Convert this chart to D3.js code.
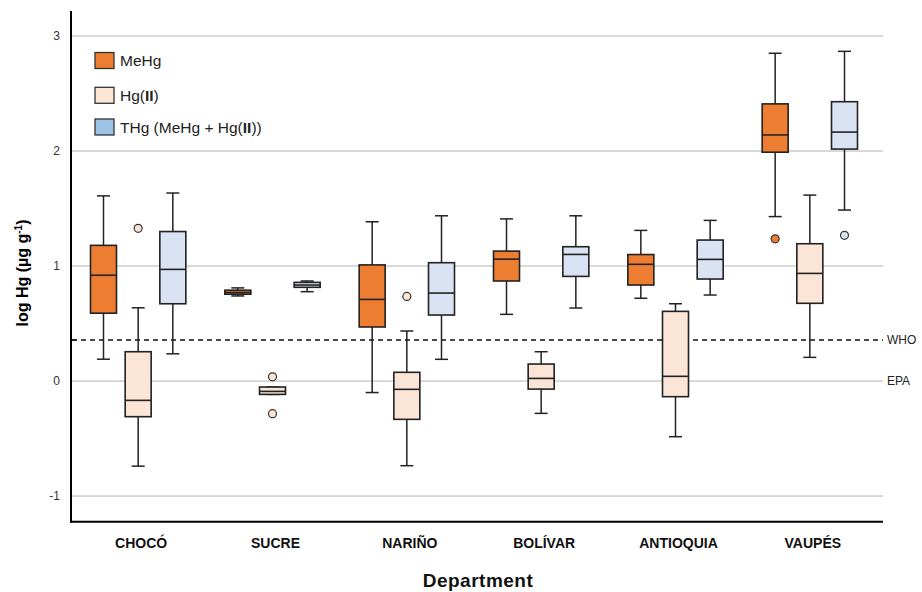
<!DOCTYPE html>
<html>
<head>
<meta charset="utf-8">
<script src="https://cdn.jsdelivr.net/npm/d3@7"></script>
<style>
  body { margin: 0; background: #fff; }
  svg { font-family: Arial, "Liberation Sans", sans-serif; }
</style>
</head>
<body>
<script>
// departments and series
const departments = ["CHOCÓ", "SUCRE", "NARIÑO", "BOLÍVAR", "ANTIOQUIA", "VAUPÉS"];
const seriesNames = ["MeHg", "Hg(II)", "THg"];

// box stats (log Hg), one value per department
const meHgMin = [0.19, 0.74, -0.10, 0.58, 0.72, 1.43];
const meHgQ1  = [0.59, 0.755, 0.47, 0.87, 0.835, 1.99];
const meHgMed = [0.92, 0.77, 0.71, 1.06, 1.015, 2.14];
const meHgQ3  = [1.18, 0.79, 1.01, 1.13, 1.10, 2.41];
const meHgMax = [1.61, 0.81, 1.385, 1.41, 1.31, 2.85];

const hgIIMin = [-0.74, -0.116, -0.736, -0.281, -0.484, 0.206];
const hgIIQ1  = [-0.31, -0.116, -0.333, -0.07, -0.136, 0.676];
const hgIIMed = [-0.168, -0.09, -0.072, 0.023, 0.041, 0.936];
const hgIIQ3  = [0.255, -0.052, 0.076, 0.148, 0.606, 1.194];
const hgIIMax = [0.637, -0.052, 0.435, 0.255, 0.672, 1.617];

const tHgMin = [0.237, 0.777, 0.189, 0.635, 0.748, 1.487];
const tHgQ1  = [0.672, 0.815, 0.574, 0.910, 0.887, 2.017];
const tHgMed = [0.971, 0.835, 0.765, 1.101, 1.058, 2.165];
const tHgQ3  = [1.30, 0.858, 1.029, 1.168, 1.226, 2.429];
const tHgMax = [1.635, 0.87, 1.437, 1.437, 1.397, 2.867];

// outliers: [department, value]
const meHgOutliers = [["VAUPÉS", 1.237]];
const hgIIOutliers = [["CHOCÓ", 1.328], ["SUCRE", 0.037], ["SUCRE", -0.284], ["NARIÑO", 0.736]];
const tHgOutliers  = [["VAUPÉS", 1.267]];

const yTicks = [-1, 0, 1, 2, 3];
const whoLevel = 0.357;
const epaLevel = 0;

const width = 922, height = 592;

const svg = d3.select("body").append("svg")
  .attr("width", width)
  .attr("height", height);

const y = d3.scaleLinear().domain([-1.223, 3.209]).range([521.7, 12]);
const x = d3.scaleBand().domain(departments).range([71, 877]);
const xs = d3.scaleBand().domain(seriesNames).range([-52, 52]);
const boxW = 26;

const fills = { "MeHg": "#ed7d31", "Hg(II)": "#fbe5d6", "THg": "#dae3f3" };
const stroke = "#222";

// gridlines
svg.append("g").selectAll("line")
  .data(yTicks)
  .join("line")
  .attr("x1", 72).attr("x2", 883)
  .attr("y1", d => y(d)).attr("y2", d => y(d))
  .attr("stroke", "#b4b4b4").attr("stroke-width", 1);

// tick labels
svg.append("g").selectAll("text")
  .data(yTicks)
  .join("text")
  .attr("x", 60).attr("y", d => y(d) + 4)
  .attr("text-anchor", "end")
  .attr("font-size", 12)
  .attr("fill", "#333")
  .text(d => d);

// WHO dashed line
svg.append("line")
  .attr("x1", 72).attr("x2", 883)
  .attr("y1", y(whoLevel)).attr("y2", y(whoLevel))
  .attr("stroke", "#111").attr("stroke-width", 1.3)
  .attr("stroke-dasharray", "5,4");
svg.append("line")
  .attr("x1", 72).attr("x2", 77)
  .attr("y1", y(whoLevel)).attr("y2", y(whoLevel))
  .attr("stroke", "#111").attr("stroke-width", 1.3);

svg.append("text").attr("x", 887).attr("y", y(whoLevel) + 4)
  .attr("font-size", 12).attr("fill", "#222").text("WHO");
svg.append("text").attr("x", 887).attr("y", y(epaLevel) + 4)
  .attr("font-size", 12).attr("fill", "#222").text("EPA");

// build box data
function boxes(name, mn, q1, md, q3, mx) {
  return departments.map((d, i) => ({
    dept: d, series: name, min: mn[i], q1: q1[i], med: md[i], q3: q3[i], max: mx[i]
  }));
}
const allBoxes = [
  ...boxes("MeHg", meHgMin, meHgQ1, meHgMed, meHgQ3, meHgMax),
  ...boxes("Hg(II)", hgIIMin, hgIIQ1, hgIIMed, hgIIQ3, hgIIMax),
  ...boxes("THg", tHgMin, tHgQ1, tHgMed, tHgQ3, tHgMax)
];

const cx = d => x(d.dept) + x.bandwidth() / 2 + xs(d.series) + xs.bandwidth() / 2;

const g = svg.append("g").selectAll("g")
  .data(allBoxes)
  .join("g");

// whiskers
g.append("line")
  .attr("x1", cx).attr("x2", cx)
  .attr("y1", d => y(d.max)).attr("y2", d => y(d.q3))
  .attr("stroke", stroke).attr("stroke-width", 1.5);
g.append("line")
  .attr("x1", cx).attr("x2", cx)
  .attr("y1", d => y(d.q1)).attr("y2", d => y(d.min))
  .attr("stroke", stroke).attr("stroke-width", 1.5);
g.append("line")
  .attr("x1", d => cx(d) - 6.5).attr("x2", d => cx(d) + 6.5)
  .attr("y1", d => y(d.max)).attr("y2", d => y(d.max))
  .attr("stroke", stroke).attr("stroke-width", 1.5);
g.append("line")
  .attr("x1", d => cx(d) - 6.5).attr("x2", d => cx(d) + 6.5)
  .attr("y1", d => y(d.min)).attr("y2", d => y(d.min))
  .attr("stroke", stroke).attr("stroke-width", 1.5);

// box
g.append("rect")
  .attr("x", d => cx(d) - boxW / 2)
  .attr("y", d => y(d.q3))
  .attr("width", boxW)
  .attr("height", d => Math.max(1, y(d.q1) - y(d.q3)))
  .attr("fill", d => fills[d.series])
  .attr("stroke", stroke).attr("stroke-width", 1.6);

// median
g.append("line")
  .attr("x1", d => cx(d) - boxW / 2).attr("x2", d => cx(d) + boxW / 2)
  .attr("y1", d => y(d.med)).attr("y2", d => y(d.med))
  .attr("stroke", stroke).attr("stroke-width", 1.6);

// outliers
const outliers = [
  ...meHgOutliers.map(o => ({ dept: o[0], series: "MeHg", v: o[1] })),
  ...hgIIOutliers.map(o => ({ dept: o[0], series: "Hg(II)", v: o[1] })),
  ...tHgOutliers.map(o => ({ dept: o[0], series: "THg", v: o[1] }))
];
svg.append("g").selectAll("circle")
  .data(outliers)
  .join("circle")
  .attr("cx", cx)
  .attr("cy", d => y(d.v))
  .attr("r", 4)
  .attr("fill", d => fills[d.series])
  .attr("stroke", "#333").attr("stroke-width", 1.2);

// axes lines
svg.append("line")
  .attr("x1", 71).attr("x2", 71).attr("y1", 11).attr("y2", 522.5)
  .attr("stroke", "#000").attr("stroke-width", 2);
svg.append("line")
  .attr("x1", 70).attr("x2", 883).attr("y1", 521.7).attr("y2", 521.7)
  .attr("stroke", "#000").attr("stroke-width", 2);

// x labels
svg.append("g").selectAll("text")
  .data(departments)
  .join("text")
  .attr("x", d => x(d) + x.bandwidth() / 2 + 3)
  .attr("y", 548)
  .attr("text-anchor", "middle")
  .attr("font-size", 14)
  .attr("font-weight", "bold")
  .attr("fill", "#111")
  .text(d => d);

svg.append("text")
  .attr("x", 478).attr("y", 587)
  .attr("text-anchor", "middle")
  .attr("font-size", 19).attr("font-weight", "bold")
  .attr("letter-spacing", 0.5)
  .attr("fill", "#111")
  .text("Department");

// y title
const yt = svg.append("text")
  .attr("transform", "translate(28,273) rotate(-90)")
  .attr("text-anchor", "middle")
  .attr("font-size", 16).attr("font-weight", "bold")
  .attr("fill", "#000");
yt.append("tspan").text("log Hg (µg g");
yt.append("tspan").attr("font-size", 10).attr("dy", -6).text("-1");
yt.append("tspan").attr("dy", 6).text(")");

// legend
const legendFills = ["#ed7d31", "#fbe5d6", "#9dc3e6"];
const legendY = [60.5, 95.3, 127];
const leg = svg.append("g").selectAll("g")
  .data(seriesNames)
  .join("g")
  .attr("transform", (d, i) => `translate(95,${legendY[i]})`);
leg.append("rect")
  .attr("x", 0).attr("y", -8).attr("width", 19).attr("height", 16)
  .attr("fill", (d, i) => legendFills[i])
  .attr("stroke", "#333").attr("stroke-width", 1.3);
const lt = leg.append("text")
  .attr("x", 25).attr("y", 5.5)
  .attr("font-size", 15.5).attr("fill", "#222");
lt.each(function (d) {
  const t = d3.select(this);
  if (d === "MeHg") {
    t.text("MeHg");
  } else if (d === "Hg(II)") {
    t.append("tspan").text("Hg(");
    t.append("tspan").attr("font-weight", "bold").text("II");
    t.append("tspan").text(")");
  } else {
    t.append("tspan").text("THg (MeHg + Hg(");
    t.append("tspan").attr("font-weight", "bold").text("II");
    t.append("tspan").text("))");
  }
});
</script>
</body>
</html>
